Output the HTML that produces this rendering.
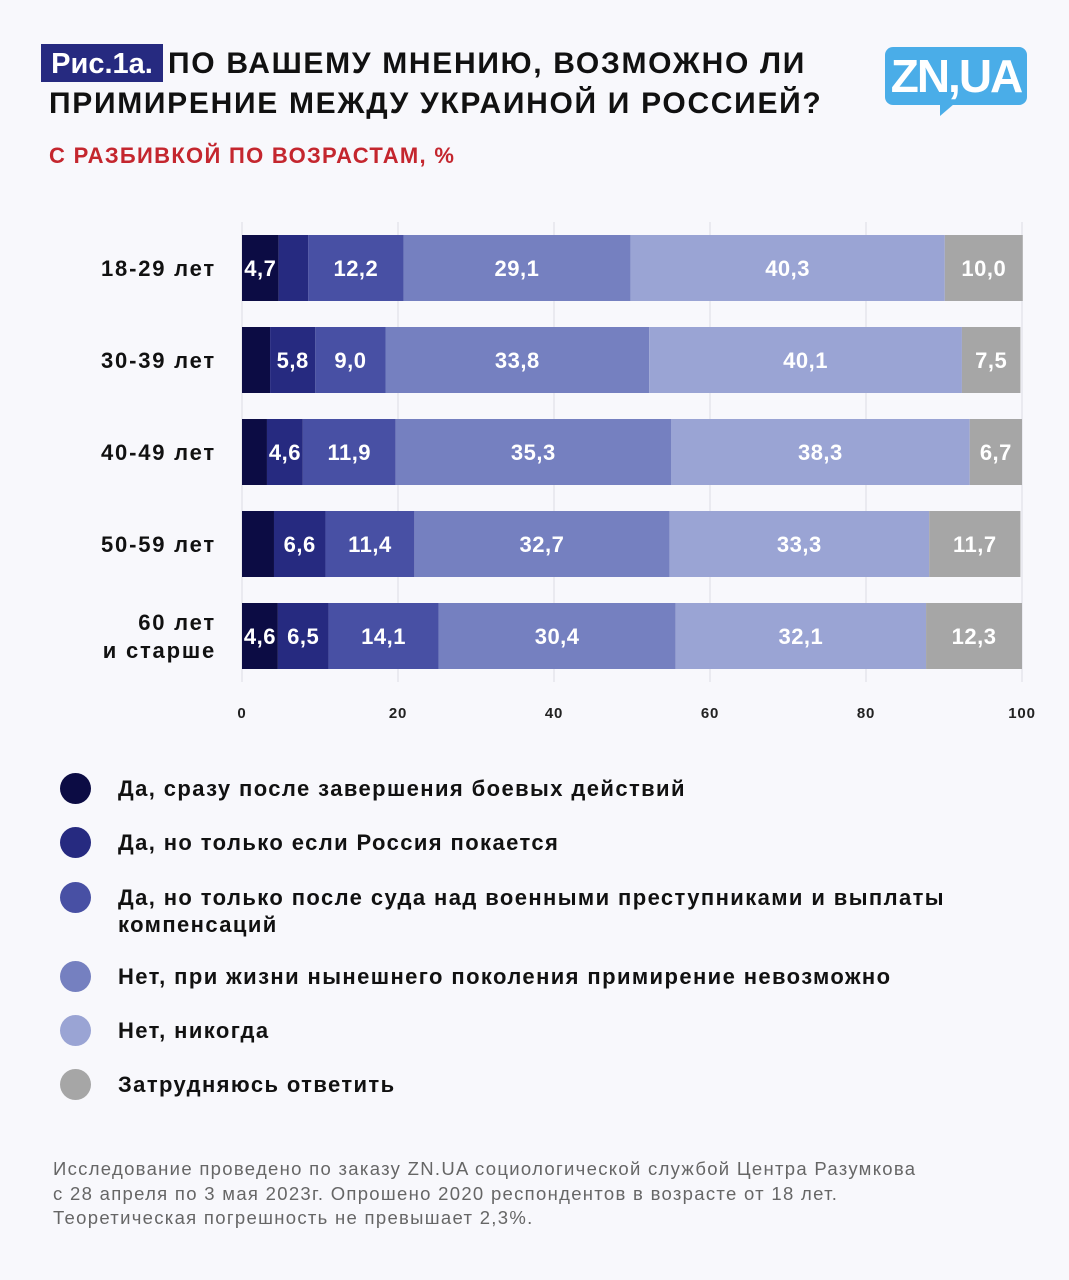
<!DOCTYPE html>
<html><head><meta charset="utf-8">
<style>
body{margin:0;width:1069px;height:1280px;background:#f8f8fc;font-family:"Liberation Sans","Noto Sans CJK SC",sans-serif;position:relative;overflow:hidden}
.t{position:absolute;font-weight:bold}
.leg{position:absolute;left:60px;font-size:22px;font-weight:bold;color:#111;letter-spacing:1.4px}
.leg i{position:absolute;left:0;width:31px;height:31px;border-radius:50%}
.leg span{position:absolute;left:58px;top:2px;width:900px;line-height:27px}
</style></head><body>
<div class="t" style="left:41px;top:44px;width:122px;height:38px;background:#262a80;color:#fff;font-size:29px;line-height:40px;text-align:center">Рис.1а.</div>
<div class="t" style="left:49px;top:44px;font-size:30px;line-height:40px;color:#111;letter-spacing:1.7px;white-space:nowrap">
<span style="margin-left:119px">ПО ВАШЕМУ МНЕНИЮ, ВОЗМОЖНО ЛИ</span><br>ПРИМИРЕНИЕ МЕЖДУ УКРАИНОЙ И РОССИЕЙ?</div>
<div class="t" style="left:49px;top:143px;font-size:22px;color:#c4262e;letter-spacing:1.3px">С РАЗБИВКОЙ ПО ВОЗРАСТАМ, %</div>
<div style="position:absolute;left:885px;top:47px;width:142px;height:58px;background:#4aade8;border-radius:8px;color:#fff;font-weight:bold;font-size:46px;line-height:58px;text-align:center;letter-spacing:-2px">ZN,UA</div>
<div style="position:absolute;left:940px;top:104px;width:0;height:0;border-left:14px solid #4aade8;border-bottom:12px solid transparent"></div>
<svg id="c" width="1069" height="740" style="position:absolute;left:0;top:0"></svg>
<div class="leg" style="top:773px"><i style="background:#0c0c44"></i><span>Да, сразу после завершения боевых действий</span></div>
<div class="leg" style="top:827px"><i style="background:#262a80"></i><span>Да, но только если Россия покается</span></div>
<div class="leg" style="top:882px"><i style="background:#4850a4"></i><span>Да, но только после суда над военными преступниками и выплаты компенсаций</span></div>
<div class="leg" style="top:961px"><i style="background:#7580c0"></i><span>Нет, при жизни нынешнего поколения примирение невозможно</span></div>
<div class="leg" style="top:1015px"><i style="background:#9aa4d4"></i><span>Нет, никогда</span></div>
<div class="leg" style="top:1069px"><i style="background:#a6a6a6"></i><span>Затрудняюсь ответить</span></div>
<div style="position:absolute;left:53px;top:1157px;font-size:18.5px;line-height:24.5px;color:#666;letter-spacing:1.3px;white-space:nowrap">Исследование проведено по заказу ZN.UA социологической службой Центра Разумкова<br>с 28 апреля по 3 мая 2023г. Опрошено 2020 респондентов в возрасте от 18 лет.<br>Теоретическая погрешность не превышает 2,3%.</div>
<script>
const categories=[["18-29 лет"],["30-39 лет"],["40-49 лет"],["50-59 лет"],["60 лет","и старше"]];
const s1=[4.7,3.6,3.2,4.1,4.6];
const s2=[3.8,5.8,4.6,6.6,6.5];
const s3=[12.2,9.0,11.9,11.4,14.1];
const s4=[29.1,33.8,35.3,32.7,30.4];
const s5=[40.3,40.1,38.3,33.3,32.1];
const s6=[10.0,7.5,6.7,11.7,12.3];
const ticks=[0,20,40,60,80,100];
const series=[s1,s2,s3,s4,s5,s6];
const colors=["#0c0c44","#262a80","#4850a4","#7580c0","#9aa4d4","#a6a6a6"];
const svg=document.getElementById('c');const NS="http://www.w3.org/2000/svg";
const X0=242,X1=1022;const x=v=>X0+(X1-X0)*v/100;
const y=i=>235+i*92;const BH=66;
function mk(t,a){const e=document.createElementNS(NS,t);for(const k in a)e.setAttribute(k,a[k]);svg.appendChild(e);return e;}
ticks.forEach(t=>{const l=mk('line',{x1:x(t),x2:x(t),y1:222,y2:682,stroke:'#dcdce4','stroke-width':1});


const tx=mk('text',{x:x(t),y:718,'text-anchor':'middle','font-size':15,'font-weight':'bold','fill':'#222','font-family':'Liberation Sans, sans-serif','letter-spacing':'0.8'});tx.textContent=t;

});
categories.forEach((c,i)=>{let acc=0;
const lab=mk('text',{x:216,'text-anchor':'end','font-size':22,'font-weight':'bold','fill':'#111','font-family':'Liberation Sans, sans-serif','letter-spacing':'1.8'});


c.forEach((ln,k)=>{const ts=document.createElementNS(NS,'tspan');ts.setAttribute('x',216);ts.setAttribute('y',y(i)+BH/2+8+(k-(c.length-1)/2)*28);ts.textContent=ln;lab.appendChild(ts);});
series.forEach((s,j)=>{const v=s[i];const r=mk('rect',{x:x(acc),y:y(i),width:x(acc+v)-x(acc),height:BH,fill:colors[j]});


if(v>=4.5){const t=mk('text',{x:(x(acc)+x(acc+v))/2,y:y(i)+BH/2+8,'text-anchor':'middle','font-size':22,'font-weight':'bold','fill':'#fff','font-family':'Liberation Sans, sans-serif','letter-spacing':'0.5'});t.textContent=v.toFixed(1).replace('.',',');

}
acc+=v;});});
</script>
</body></html>
